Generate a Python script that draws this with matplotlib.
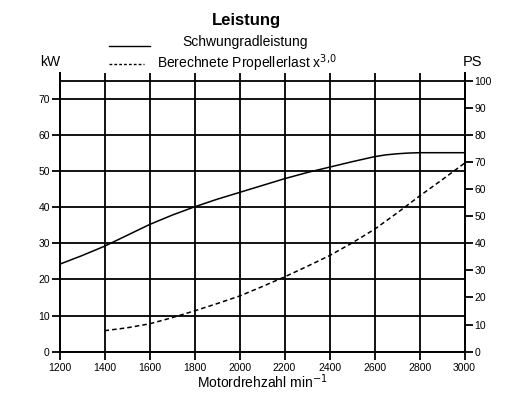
import matplotlib.pyplot as plt
import numpy as np

plt.rcParams['font.family'] = ['Liberation Sans', 'DejaVu Sans']

# engine speed (1/min)
rpm_flywheel = [1200, 1300, 1400, 1500, 1600, 1700, 1800, 1900, 2000, 2100, 2200,
                2300, 2400, 2500, 2600, 2650, 2700, 2750, 2800, 2900, 3000]
kw_flywheel = [24.2, 26.6, 29.2, 32.2, 35.2, 37.8, 40.1, 42.2, 44.1, 46.0, 47.9,
               49.6, 51.1, 52.6, 54.0, 54.5, 54.8, 55.0, 55.1, 55.1, 55.1]

rpm_prop = [1400, 1500, 1600, 1700, 1800, 1900, 2000, 2100, 2200, 2300, 2400,
            2500, 2600, 2700, 2800, 2900, 3000]
kw_prop = [5.8, 6.6, 7.7, 9.4, 11.3, 13.3, 15.4, 18.0, 20.7, 23.6, 26.6,
           30.1, 33.9, 38.4, 43.1, 47.6, 52.2]

x_ticks = [1200, 1400, 1600, 1800, 2000, 2200, 2400, 2600, 2800, 3000]
kw_ticks = [0, 10, 20, 30, 40, 50, 60, 70]
ps_ticks = [0, 10, 20, 30, 40, 50, 60, 70, 80, 90, 100]

fig = plt.figure(figsize=(5.22, 3.96), dpi=100)
ax = fig.add_axes([0.114, 0.112, 0.776, 0.703])
ax2 = ax.twinx()

lw = 1.3
ax.plot(rpm_flywheel, kw_flywheel, color='k', lw=1.1)
ax.plot(rpm_prop, kw_prop, color='k', lw=1.1, ls=(0, (3, 2)))

ax.set_xlim(1200, 3000)
ax.set_ylim(0, 77.1)
ax2.set_ylim(0, 102.7)
ax.set_xticks(x_ticks)
ax.set_yticks(kw_ticks)
ax2.set_yticks(ps_ticks)

ax.grid(True, color='k', lw=lw)
ax2.axhline(100, color='k', lw=lw)

for a in (ax, ax2):
    a.spines['top'].set_visible(False)
    for s in a.spines.values():
        s.set_linewidth(lw)
    a.tick_params(direction='out', length=6, width=lw, labelsize=7.5, pad=1, colors='k')
ax.tick_params(axis='x', pad=2)

ax.set_xlabel('Motordrehzahl min$^{-1}$', fontsize=10, labelpad=0)
fig.text(0.077, 0.843, 'kW', fontsize=10, ha='left', va='center')
fig.text(0.886, 0.843, 'PS', fontsize=10.5, ha='left', va='center')

# title and legend
fig.text(0.473, 0.948, 'Leistung', fontsize=12, fontweight='bold', ha='center', va='center')
fig.lines.append(plt.Line2D([0.209, 0.287], [0.884, 0.884], color='k', lw=1.0,
                            transform=fig.transFigure))
fig.text(0.349, 0.894, 'Schwungradleistung', fontsize=10, ha='left', va='center')
fig.lines.append(plt.Line2D([0.209, 0.276], [0.838, 0.838], color='k', lw=1.0, ls=(0, (2, 1.5)),
                            transform=fig.transFigure))
fig.text(0.300, 0.841, 'Berechnete Propellerlast x$^{3{,}0}$', fontsize=10, ha='left', va='center')

fig.savefig('out.png', dpi=100)
